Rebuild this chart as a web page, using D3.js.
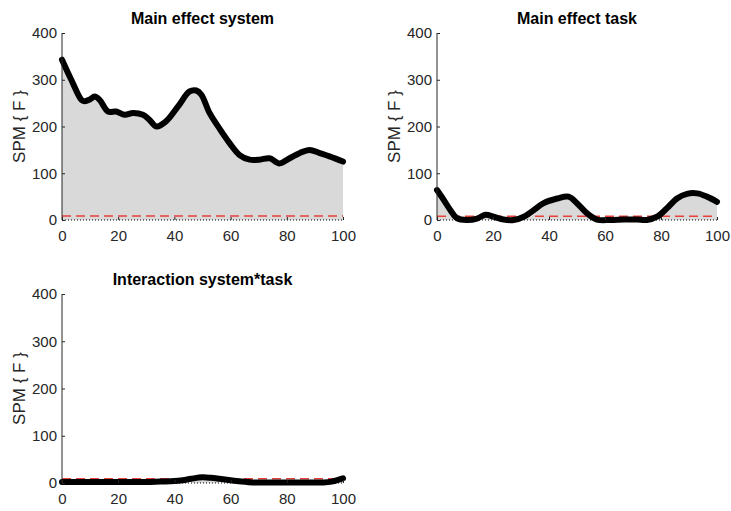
<!DOCTYPE html>
<html>
<head>
<meta charset="utf-8">
<script src="https://cdn.jsdelivr.net/npm/d3@7"></script>
<style>
  body { margin: 0; background: #fff; }
  text { font-family: "Liberation Sans", Arial, sans-serif; }
</style>
</head>
<body>
<svg id="chart" width="731" height="511"></svg>
<script>
// ---- data ----
const titles = ["Main effect system", "Main effect task", "Interaction system*task"];
const yLabel = "SPM { F }";
const xTicks = [0, 20, 40, 60, 80, 100];
const yTicks = [0, 100, 200, 300, 400];

const systemX = [0, 3.3, 6.9, 8, 10, 11.6, 13.4, 16.4, 19.3, 22.3, 25.3, 28.8, 31, 33.6, 37, 41.3, 45.4, 47.8, 49.6, 52.5, 56, 59.7, 63.2, 66.8, 70.3, 73.9, 77.4, 81, 84.5, 88.1, 91.7, 95.2, 100];
const systemF = [343, 300, 257, 254, 258, 264, 257, 232, 232, 225, 229, 225, 215, 200, 211, 243, 275, 277, 268, 229, 196, 164, 139, 129, 129, 132, 121, 132, 143, 150, 143, 136, 125];

const taskX = [0, 2.4, 4.8, 7.1, 10.7, 14.3, 17.3, 20.2, 23.8, 27.4, 31, 34.5, 38.1, 42.9, 47, 50, 53.6, 57.1, 61.9, 66.7, 71.4, 75, 78.6, 82.1, 85.7, 89.3, 92.9, 96.4, 100];
const taskF = [64, 43, 21, 4, 0, 3, 11, 7, 1, 0, 7, 21, 36, 46, 50, 36, 14, 1, 0, 1, 1, 0, 7, 25, 46, 56, 57, 50, 39];

const interX = [0, 5, 10, 15, 20, 25, 30, 35, 40, 43, 46, 50, 53, 56, 60, 64, 68, 72, 76, 80, 85, 90, 93, 96, 98, 100];
const interF = [2, 2, 2, 2, 2, 2, 2, 3, 4, 6, 9, 12, 11, 9, 6, 3, 1, 1, 1, 1, 1, 1, 1, 3, 6, 10];

const thresholds = [8.5, 8.0, 9.0];

// ---- layout ----
const panels = [
  { x0: 62, x1: 343, y0: 33, y1: 220, xs: systemX, ys: systemF },
  { x0: 437, x1: 717, y0: 33, y1: 220, xs: taskX, ys: taskF },
  { x0: 62, x1: 343, y0: 294, y1: 483, xs: interX, ys: interF }
];

const svg = d3.select("#chart");
const axisColor = "#262626";
const font = '"Liberation Sans", Arial, sans-serif';

function clusters(xs, ys, th) {
  const out = [];
  let start = null;
  for (let i = 0; i < xs.length; i++) {
    const above = ys[i] > th;
    if (above && start === null) {
      if (i === 0) start = xs[0];
      else {
        const t = (th - ys[i - 1]) / (ys[i] - ys[i - 1]);
        start = xs[i - 1] + t * (xs[i] - xs[i - 1]);
      }
    } else if (!above && start !== null) {
      const t = (th - ys[i - 1]) / (ys[i] - ys[i - 1]);
      out.push([start, xs[i - 1] + t * (xs[i] - xs[i - 1])]);
      start = null;
    }
  }
  if (start !== null) out.push([start, xs[xs.length - 1]]);
  return out;
}

panels.forEach((p, k) => {
  const x = d3.scaleLinear().domain([0, 100]).range([p.x0, p.x1]);
  const y = d3.scaleLinear().domain([0, 400]).range([p.y1, p.y0]);
  const g = svg.append("g");
  const data = p.xs.map((v, i) => [v, p.ys[i]]);
  const curve = d3.curveCatmullRom.alpha(0.5);

  // cluster fill
  const clipId = "clip" + k;
  const cp = svg.append("clipPath").attr("id", clipId);
  clusters(p.xs, p.ys, thresholds[k]).forEach(([a, b]) => {
    cp.append("rect").attr("x", x(a)).attr("width", x(b) - x(a))
      .attr("y", p.y0 - 10).attr("height", p.y1 - p.y0 + 10);
  });
  g.append("path").datum(data)
    .attr("clip-path", `url(#${clipId})`)
    .attr("fill", "#d9d9d9")
    .attr("d", d3.area().x(d => x(d[0])).y0(y(0)).y1(d => y(d[1])).curve(curve));

  // zero dotted line
  g.append("line").attr("x1", x(0)).attr("x2", x(100)).attr("y1", y(0)).attr("y2", y(0))
    .attr("stroke", "#000").attr("stroke-width", 1).attr("stroke-dasharray", "1,2");

  // threshold
  g.append("line").attr("x1", x(0)).attr("x2", x(100))
    .attr("y1", y(thresholds[k])).attr("y2", y(thresholds[k]))
    .attr("stroke", "#e8403a").attr("stroke-width", 1.5).attr("stroke-dasharray", "9,5");

  // curve
  g.append("path").datum(data)
    .attr("fill", "none").attr("stroke", "#000").attr("stroke-width", 6)
    .attr("stroke-linejoin", "round").attr("stroke-linecap", "round")
    .attr("d", d3.line().x(d => x(d[0])).y(d => y(d[1])).curve(curve));

  // y axis
  const ya = g.append("g").attr("transform", `translate(${p.x0},0)`)
    .call(d3.axisLeft(y).tickValues(yTicks).tickSize(-3).tickPadding(5).tickFormat(d3.format("d")));
  ya.select(".domain").attr("stroke", axisColor).attr("d", `M0,${p.y1}V${p.y0}`);
  ya.selectAll(".tick line").attr("stroke", axisColor);
  ya.selectAll("text").attr("fill", axisColor).style("font-size", "15px").style("font-family", font);

  // x axis (ticks only)
  const xa = g.append("g").attr("transform", `translate(0,${p.y1})`)
    .call(d3.axisBottom(x).tickValues(xTicks).tickSize(-3).tickPadding(10).tickFormat(d3.format("d")));
  xa.select(".domain").remove();
  xa.selectAll(".tick line").attr("stroke", axisColor);
  xa.selectAll("text").attr("fill", axisColor).style("font-size", "15px").style("font-family", font);

  // title
  g.append("text").attr("x", (p.x0 + p.x1) / 2).attr("y", p.y0 - 9)
    .attr("text-anchor", "middle").style("font-size", "16px").style("font-weight", "bold")
    .style("font-family", font).attr("fill", "#000").text(titles[k]);

  // y label
  g.append("text")
    .attr("transform", `translate(${p.x0 - 37},${(p.y0 + p.y1) / 2}) rotate(-90)`)
    .attr("text-anchor", "middle").style("font-size", "17px").style("font-family", font)
    .attr("fill", axisColor).text(yLabel);
});
</script>
</body>
</html>
